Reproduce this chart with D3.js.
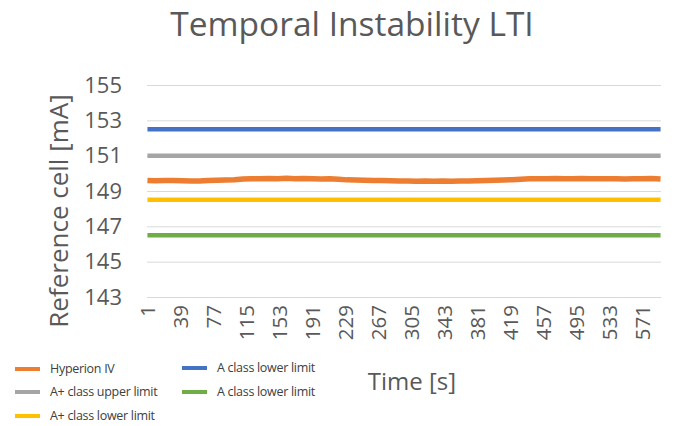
<!DOCTYPE html>
<html>
<head>
<meta charset="utf-8">
<script src="https://cdn.jsdelivr.net/npm/d3@7"></script>
<style>
  body { margin: 0; background: #fff; }
  svg { display: block; font-family: "Open Sans", sans-serif; }
</style>
</head>
<body>
<svg id="chart" width="676" height="426"></svg>
<script>
// time axis: 1 ... 592 s, labels every 38 s
var nPoints = 592;
var xTickLabels = [1, 39, 77, 115, 153, 191, 229, 267, 305, 343, 381, 419, 457, 495, 533, 571];
var yTickLabels = [143, 145, 147, 149, 151, 153, 155];

// Hyperion IV measurement, read every 10 s
var hyperionTime = [1, 11, 21, 31, 41, 51, 61, 71, 81, 91, 101, 111, 121, 131, 141, 151, 161, 171, 181, 191,
  201, 211, 221, 231, 241, 251, 261, 271, 281, 291, 301, 311, 321, 331, 341, 351, 361, 371, 381, 391,
  401, 411, 421, 431, 441, 451, 461, 471, 481, 491, 501, 511, 521, 531, 541, 551, 561, 571, 581, 592];
var hyperionValues = [149.60, 149.58, 149.60, 149.59, 149.58, 149.56, 149.57, 149.60, 149.61, 149.62,
  149.64, 149.68, 149.70, 149.69, 149.71, 149.70, 149.72, 149.69, 149.71, 149.70,
  149.68, 149.69, 149.66, 149.63, 149.62, 149.61, 149.60, 149.60, 149.58, 149.57,
  149.56, 149.55, 149.56, 149.55, 149.56, 149.55, 149.57, 149.56, 149.58, 149.60,
  149.61, 149.62, 149.64, 149.66, 149.69, 149.70, 149.70, 149.71, 149.70, 149.70,
  149.71, 149.70, 149.70, 149.69, 149.70, 149.68, 149.70, 149.69, 149.71, 149.68];

// class limits (constant over the run)
var limitTime = [1, 592];
var aPlusUpper = [151, 151];
var aPlusLower = [148.5, 148.5];
var aLowerBlue = [152.5, 152.5];
var aLowerGreen = [146.5, 146.5];

var series = [
  {name: "Hyperion IV", color: "#ED7D31", t: hyperionTime, v: hyperionValues},
  {name: "A+ class upper limit", color: "#A5A5A5", t: limitTime, v: aPlusUpper},
  {name: "A+ class lower limit", color: "#FFC000", t: limitTime, v: aPlusLower},
  {name: "A class lower limit", color: "#4472C4", t: limitTime, v: aLowerBlue},
  {name: "A class lower limit", color: "#70AD47", t: limitTime, v: aLowerGreen}
];

var svg = d3.select("#chart"),
    margin = {top: 85, right: 15, bottom: 129, left: 147},
    width = +svg.attr("width") - margin.left - margin.right,
    height = +svg.attr("height") - margin.top - margin.bottom,
    g = svg.append("g").attr("transform", "translate(" + margin.left + "," + margin.top + ")");

var x = d3.scaleLinear()
    .domain([0.5, nPoints + 0.5])
    .range([0, width]);

var y = d3.scaleLinear()
    .domain([143, 155])
    .range([height, 0]);

// gridlines
g.append("g")
    .call(d3.axisLeft(y).tickValues(yTickLabels).tickSize(-width).tickFormat(""))
    .call(function(a) {
      a.select(".domain").remove();
      a.selectAll("line").attr("stroke", "#D9D9D9");
    });

// y tick labels
g.append("g")
    .call(d3.axisLeft(y).tickValues(yTickLabels).tickSize(0).tickPadding(25))
    .call(function(a) {
      a.select(".domain").remove();
      a.selectAll("text")
          .attr("fill", "#595959")
          .style("font-size", "22px")
          .style("font-family", "Open Sans, sans-serif");
    });

// x axis
g.append("g")
    .attr("transform", "translate(0," + height + ")")
    .call(d3.axisBottom(x).tickValues(xTickLabels).tickSize(0).tickPadding(8))
    .call(function(a) {
      a.select(".domain").attr("stroke", "#D9D9D9");
      a.selectAll("text")
          .attr("fill", "#595959")
          .style("font-size", "20.5px")
          .style("font-family", "Open Sans, sans-serif")
          .attr("transform", "rotate(-90)")
          .attr("text-anchor", "end")
          .attr("x", -8)
          .attr("y", 0)
          .attr("dy", "0.35em");
    });

var line = d3.line()
    .x(function(d) { return x(d[0]); })
    .y(function(d) { return y(d[1]); });

// limits first, measurement on top
[1, 2, 3, 4, 0].forEach(function(i) {
  var s = series[i];
  g.append("path")
      .datum(d3.zip(s.t, s.v))
      .attr("fill", "none")
      .attr("stroke", s.color)
      .attr("stroke-width", i === 0 ? 5.5 : 4.5)
      .attr("stroke-linejoin", "round")
      .attr("d", line);
});

// title
svg.append("text")
    .attr("x", 352)
    .attr("y", 36)
    .attr("text-anchor", "middle")
    .attr("fill", "#595959")
    .style("font-size", "33.5px")
    .text("Temporal Instability LTI");

// axis titles
svg.append("text")
    .attr("transform", "translate(68,211) rotate(-90)")
    .attr("text-anchor", "middle")
    .attr("fill", "#595959")
    .style("font-size", "26px")
    .text("Reference cell [mA]");

svg.append("text")
    .attr("x", 412)
    .attr("y", 390)
    .attr("text-anchor", "middle")
    .attr("fill", "#595959")
    .style("font-size", "24px")
    .text("Time [s]");

// legend
var legendPos = [[15, 369], [15, 392], [15, 416], [182, 368], [182, 392]];
var legend = svg.append("g").selectAll("g")
    .data(series)
  .enter().append("g")
    .attr("transform", function(d, i) { return "translate(" + legendPos[i][0] + "," + legendPos[i][1] + ")"; });

legend.append("line")
    .attr("x1", 0).attr("x2", 25)
    .attr("stroke", function(d) { return d.color; })
    .attr("stroke-width", 4);

legend.append("text")
    .attr("x", 35)
    .attr("dy", "0.35em")
    .attr("fill", "#404040")
    .style("font-size", "12.5px")
    .style("letter-spacing", "-0.3px")
    .text(function(d) { return d.name; });
</script>
</body>
</html>
